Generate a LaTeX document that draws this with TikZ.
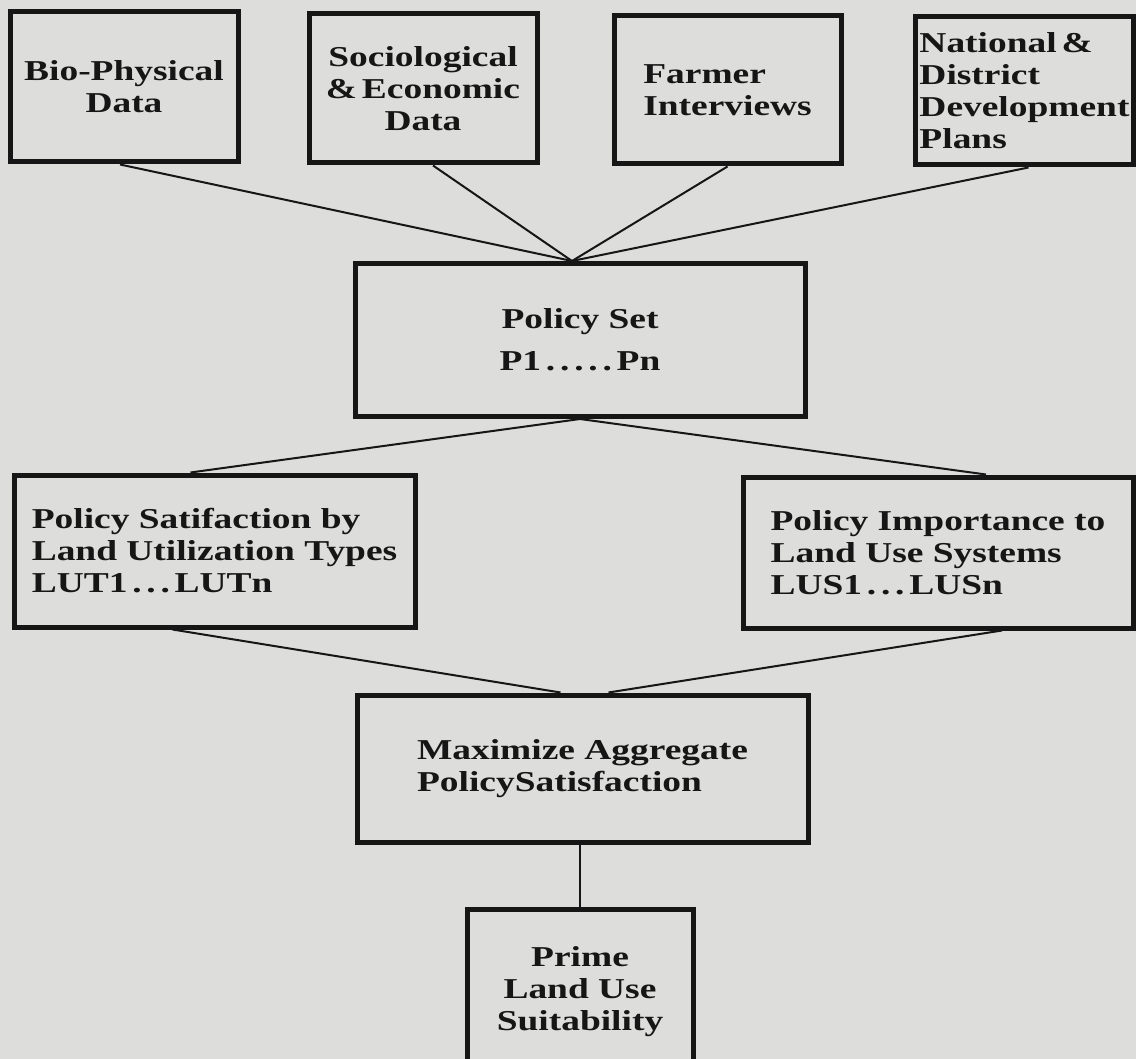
\documentclass[tikz,border=0pt]{standalone}
\usepackage{fontspec}
\setmainfont[FakeStretch=1.3]{Liberation Serif}
\usepackage{tikz}
\usetikzlibrary{positioning,calc}
\usepackage{xcolor}
\definecolor{paper}{HTML}{DDDDDB}
\definecolor{ink}{HTML}{161616}

\tikzset{
  box/.style={draw=ink, line width=2.5pt, fill=paper, align=left, inner sep=2pt,
    font=\fontsize{14.4pt}{16pt}\selectfont\bfseries, text=ink},
  link/.style={draw=ink, line width=1pt}
}

\begin{document}
\begin{tikzpicture}[x=0.5pt, y=-0.5pt]
  \fill[paper] (0,0) rectangle (1136,1059);
  \useasboundingbox (0,0) rectangle (1136,1059);

  % inputs
  \node[box, align=center, minimum width=114pt, minimum height=75pt] (bio) at (124,87) {Bio-Physical\\Data};
  \node[box, align=center, minimum width=114pt, minimum height=74.5pt] (socio) at (423,88.5) {Sociological\\\&\,Economic\\Data};
  \node[box, minimum width=113.5pt, minimum height=74pt] (farmer) at (727.5,90) {Farmer\\Interviews};
  \node[box, minimum width=108.5pt, minimum height=74pt] (plans) at (1024.5,91) {National\,\&\\District\\Development\\Plans};

  % policies
  \node[box, align=center, minimum width=225pt, minimum height=76.5pt] (pset) at (580,340) {Policy Set\\[5pt]P1\,.\,.\,.\,.\,.\,Pn};
  \node[box, minimum width=200.5pt, minimum height=76pt] (lut) at (214.5,551) {Policy Satifaction by\\Land Utilization Types\\LUT1\,.\,.\,.\,LUTn};
  \node[box, minimum width=195pt, minimum height=75.5pt] (lus) at (938,552.5) {Policy Importance to\\Land Use Systems\\LUS1\,.\,.\,.\,LUSn};

  % outcome
  \node[box, minimum width=225.5pt, minimum height=73.5pt] (maxagg) at (582.5,768.5) {Maximize Aggregate\\PolicySatisfaction};
  \node[box, align=center, minimum width=113pt, minimum height=82.5pt] (prime) at (580,992) {Prime\\Land Use\\Suitability};

  \draw[link] ([xshift=-2pt]bio.south) -- ([xshift=-4pt]pset.north);
  \draw[link] ([xshift=5pt]socio.south) -- ([xshift=-4pt]pset.north);
  \draw[link] (farmer.south) -- ([xshift=-4pt]pset.north);
  \draw[link] ([xshift=2pt]plans.south) -- ([xshift=-4pt]pset.north);
  \draw[link] (pset.south) -- ([xshift=-12pt]lut.north);
  \draw[link] (pset.south) -- ([xshift=24pt]lus.north);
  \draw[link] ([xshift=-21pt]lut.south) -- ([xshift=-11pt]maxagg.north);
  \draw[link] ([xshift=32pt]lus.south) -- ([xshift=13pt]maxagg.north);
  \draw[link] (prime.north |- maxagg.south) -- (prime.north);
\end{tikzpicture}
\end{document}
